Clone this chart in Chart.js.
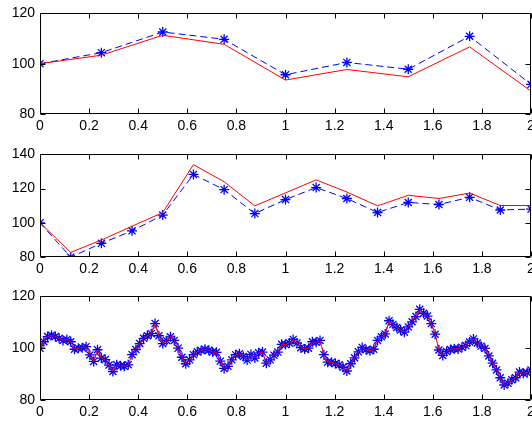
<!DOCTYPE html>
<html>
<head>
<meta charset="utf-8">
<script src="https://cdn.jsdelivr.net/npm/chart.js@4"></script>
<style>
  html, body { margin: 0; padding: 0; background: #fff; width: 532px; height: 424px; overflow: hidden; }
  canvas { position: absolute; left: 0; }
</style>
</head>
<body>
<canvas id="plot1" width="545" height="138" style="top:0px"></canvas>
<canvas id="plot2" width="545" height="140" style="top:141px"></canvas>
<canvas id="plot3" width="545" height="141" style="top:283px"></canvas>
<script>
// tick labels
const xTicks = [0, 0.2, 0.4, 0.6, 0.8, 1, 1.2, 1.4, 1.6, 1.8, 2];
const yTicks1 = [80, 100, 120];
const yTicks2 = [80, 100, 120, 140];
const yTicks3 = [80, 100, 120];

// top plot: 9 samples over 0..2
const blue1 = [100, 104.4, 112.6, 109.7, 95.6, 100.5, 97.8, 110.9, 91.8];
const red1  = [100, 103.4, 111.3, 107.7, 93.5, 97.7, 94.8, 106.7, 89.1];

// middle plot: 17 samples over 0..2
const blue2 = [100, 79.9, 88, 95.3, 104.5, 128.3, 119.4, 105.4, 113.6, 120.6, 114.2, 106, 111.9, 110.7, 114.9, 107.5, 108];
const red2  = [100, 82.7, 89.9, 98, 106, 134, 124, 109.9, 117.5, 125.1, 118, 109.9, 116.1, 114.2, 117.4, 110.1, 110.1];

// bottom plot: 129 samples over 0..2 (red follows the blue markers)
const blue3 = [
  100, 102.5, 104.5, 105, 104.5, 103.8, 103, 103.4, 102.5, 99.6,
  100, 100.2, 100.6, 97.4, 94.9, 99.4, 96.2, 95.6, 93.5, 91,
  93.6, 93.2, 93, 93.6, 97.5, 99.5, 101.8, 103.8, 104.8, 105.6,
  109.5, 104.8, 101.8, 103, 104.4, 103, 100, 96.5, 94, 95.5,
  97.5, 98.6, 99.1, 99.6, 99.2, 98.5, 98.4, 95, 92.2, 93,
  95.5, 97.5, 97.9, 96.8, 95.4, 97.6, 96.2, 98.2, 98.5, 94.2,
  95.5, 97.3, 98.5, 101.5, 101.4, 102, 103.4, 102, 100.2, 99.7,
  100, 102.5, 102.3, 103, 97.5, 94.6, 94.6, 94.1, 93.6, 92.6,
  91.2, 94, 96.3, 98.6, 100.3, 99.4, 99, 99.6, 103, 104.4,
  105.5, 110.6, 109.2, 108, 107, 106.2, 108.2, 110.2, 112.2, 115,
  113.5, 112.4, 109.5, 105.4, 99.3, 97.2, 98.7, 99.5, 99.8, 99.7,
  100.4, 101, 102.4, 103.6, 102, 100.8, 99.9, 97, 94.2, 91.6,
  88.6, 85.8, 86.5, 87.8, 88.6, 90.8, 90.3, 90.5, 91.6
];
const red3 = blue3;

function toPoints(values) {
  const step = 2 / (values.length - 1);
  return values.map((v, i) => ({ x: i * step, y: v }));
}

// matlab style box with inward ticks
const matlabAxes = {
  id: 'matlabAxes',
  afterDatasetsDraw(chart) {
    const ctx = chart.ctx;
    const a = chart.chartArea;
    const x = chart.scales.x, y = chart.scales.y;
    const L = Math.round(a.left) + 0.5, R = Math.round(a.right) - 0.5;
    const T = Math.round(a.top) + 0.5, B = Math.round(a.bottom) - 0.5;
    const len = 5;
    ctx.save();
    ctx.strokeStyle = '#000';
    ctx.lineWidth = 1;
    ctx.beginPath();
    ctx.rect(L, T, R - L, B - T);
    x.ticks.forEach(t => {
      const px = Math.round(x.getPixelForValue(t.value)) + 0.5;
      ctx.moveTo(px, B); ctx.lineTo(px, B - len);
      ctx.moveTo(px, T); ctx.lineTo(px, T + len);
    });
    y.ticks.forEach(t => {
      const py = Math.round(y.getPixelForValue(t.value)) + 0.5;
      ctx.moveTo(L, py); ctx.lineTo(L + len, py);
      ctx.moveTo(R, py); ctx.lineTo(R - len, py);
    });
    ctx.stroke();
    ctx.restore();
  }
};

Chart.defaults.font.family = '"Liberation Sans", Arial, sans-serif';
Chart.defaults.font.size = 14;
Chart.defaults.color = '#000';

function makePlot(id, blue, red, yTicks) {
  const ctx = document.getElementById(id).getContext('2d');
  return new Chart(ctx, {
    type: 'line',
    data: {
      datasets: [
        {
          data: toPoints(red),
          borderColor: '#ff0000',
          borderWidth: 1,
          pointRadius: 0,
          tension: 0,
          fill: false
        },
        {
          data: toPoints(blue),
          borderColor: '#0000ff',
          borderWidth: 1,
          borderDash: [7, 4],
          pointStyle: 'star',
          pointRadius: 5,
          pointBorderColor: '#0000ff',
          pointBorderWidth: 1.3,
          tension: 0,
          fill: false
        }
      ]
    },
    options: {
      responsive: false,
      animation: false,
      layout: { padding: { left: 0, right: 14, top: 13, bottom: 0 } },
      plugins: {
        legend: { display: false },
        tooltip: { enabled: false }
      },
      scales: {
        x: {
          type: 'linear',
          min: 0,
          max: 2,
          grid: { display: false, drawTicks: false },
          border: { display: false },
          afterBuildTicks: scale => { scale.ticks = xTicks.map(v => ({ value: v })); },
          afterFit: scale => { scale.height = 24; },
          ticks: {
            padding: 4,
            maxRotation: 0,
            autoSkip: false,
            callback: v => String(+v.toFixed(1))
          }
        },
        y: {
          min: yTicks[0],
          max: yTicks[yTicks.length - 1],
          grid: { display: false, drawTicks: false },
          border: { display: false },
          afterBuildTicks: scale => { scale.ticks = yTicks.map(v => ({ value: v })); },
          afterFit: scale => { scale.width = 40; },
          ticks: {
            padding: 5,
            callback: v => String(v)
          }
        }
      }
    },
    plugins: [matlabAxes]
  });
}

makePlot('plot1', blue1, red1, yTicks1);
makePlot('plot2', blue2, red2, yTicks2);
makePlot('plot3', blue3, red3, yTicks3);
</script>
</body>
</html>
